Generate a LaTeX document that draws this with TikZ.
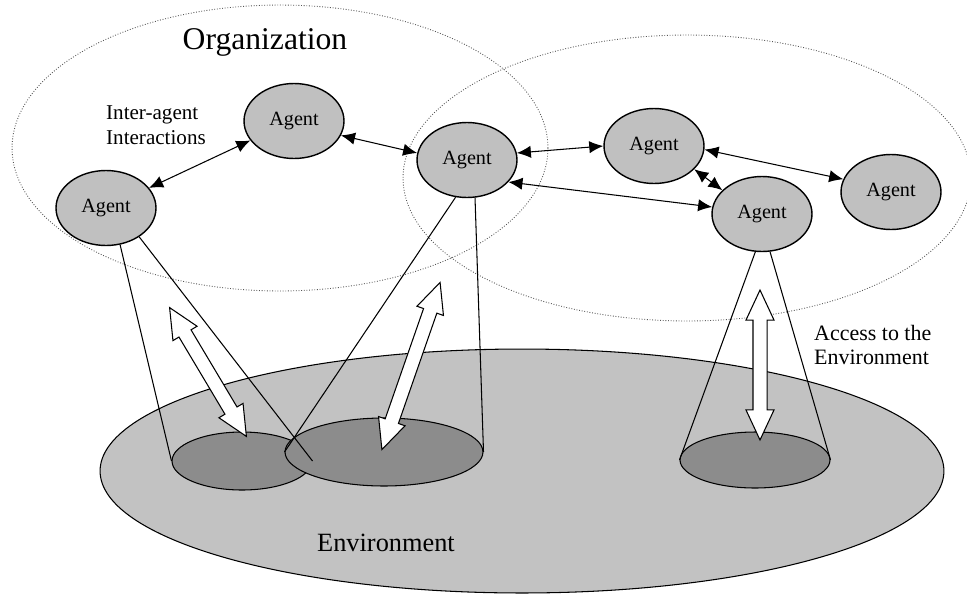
\documentclass[tikz,border=0pt]{standalone}
\usepackage{fontspec}
\setmainfont{Liberation Serif}
\usetikzlibrary{shapes.geometric,shapes.arrows,arrows.meta}

\definecolor{agentgray}{RGB}{192,192,192}
\definecolor{envgray}{RGB}{194,194,194}
\definecolor{spotgray}{RGB}{140,140,140}
\definecolor{orggray}{RGB}{85,85,85}

\begin{document}
\begin{tikzpicture}[x=0.02cm,y=-0.02cm,>={Latex[length=8pt,width=7pt]},
    agent/.style={ellipse,draw,thick,fill=agentgray,inner sep=0pt,
        minimum width=2.0cm,minimum height=1.5cm,font=\fontsize{11.5}{13}\selectfont},
    org/.style={ellipse,draw=orggray,densely dotted,line width=0.5pt,inner sep=0pt},
    spot/.style={ellipse,draw,semithick,fill=spotgray,inner sep=0pt},
    access/.style={double arrow,draw,semithick,fill=white,inner xsep=0pt,inner ysep=0.13cm,
        double arrow head extend=0.14cm,double arrow tip angle=50},
    label/.style={align=left,font=\fontsize{12.5}{14}\selectfont}]
    \useasboundingbox (0,0) rectangle (967,596);

    % draw the environment
    \node[ellipse,draw,semithick,fill=envgray,inner sep=0pt,minimum width=16.88cm,minimum height=4.88cm] (env) at (522,471) {};
    \node[font=\fontsize{15}{17}\selectfont] (envtext) at (386,543) {Environment};

    % the parts of the environment the agents reach
    \node[spot,minimum width=2.8cm,minimum height=1.16cm] (spot1) at (242,461) {};
    \node[spot,minimum width=3.96cm,minimum height=1.36cm] (spot2) at (384,452) {};
    \node[spot,minimum width=3.0cm,minimum height=1.12cm] (spot3) at (755,460) {};

    % the two organizations
    \node[org,minimum width=10.72cm,minimum height=5.72cm] (org1) at (280,148) {};
    \node[org,minimum width=11.36cm,minimum height=5.72cm] (org2) at (687,178) {};
    \node[font=\fontsize{18}{20}\selectfont] (orgtext) at (265,42) {Organization};

    % the agents
    \foreach \name/\x/\y in {a1/106/208, a2/294/121, a3/467/160,
                             a4/654/146, a5/762/214, a6/891/192}
        \node[agent] (\name) at (\x,\y) {Agent};

    % lines from the agents down to the environment
    \foreach \from/\to in {a1.-69/spot1.west, a1.-41/spot1.east,
                           a3.-107/spot2.west, a3.-78/spot2.east,
                           a5.-100/spot3.west, a5.-78/spot3.east}
        \draw[semithick] (\from) -- (\to);

    % access to the environment
    \foreach \n/\x/\y/\len/\ang in {1/208/372/3.0/-59.2,
                                    2/411/366/3.54/70.8,
                                    3/760/365/3.0/90}
        \node[access,minimum height=\len cm,rotate=\ang] (acc\n) at (\x,\y) {};

    % inter-agent interactions
    \foreach \from/\to in {a1.25/a2.204, a2.-17/a3.172, a3.8/a4.180,
                           a3.-28/a5.172, a4.-30/a5.149, a4.-4/a6.165}
        \draw[<->,semithick] (\from) -- (\to);

    \node[label,anchor=west,font=\fontsize{12}{14}\selectfont] (inter) at (100,125) {Inter-agent\\Interactions};
    \node[label,anchor=west] (access) at (808,345) {Access to the\\Environment};
\end{tikzpicture}
\end{document}
